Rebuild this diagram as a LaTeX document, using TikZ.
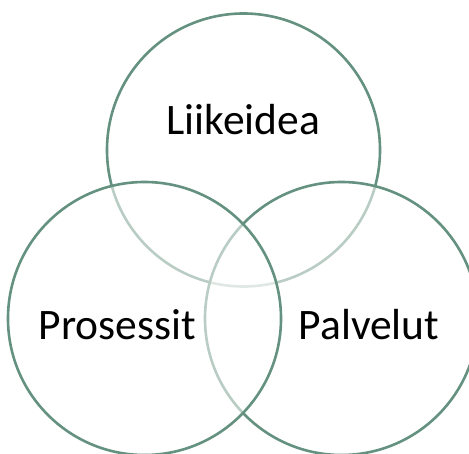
\documentclass[tikz,border=0pt]{standalone}
\usepackage{fontspec}
\setmainfont{Carlito}
\definecolor{ring}{RGB}{100,145,128}
\begin{document}
\begin{tikzpicture}[x=1pt,y=1pt,
  vcircle/.style={circle, draw=ring, line width=2.6pt, fill=white, fill opacity=0.55, draw opacity=1, minimum size=273pt, inner sep=0pt},
  vlabel/.style={font=\fontsize{43.5}{50}\selectfont, text=black, anchor=base}]
\useasboundingbox (0,0) rectangle (469,453);
\begin{scope}
\clip (0,0) rectangle (469,453);
\node[vcircle] (top) at (243.5,303) {};
\node[vcircle] (right) at (341.5,134.5) {};
\node[vcircle] (left) at (144.5,134.5) {};
\end{scope}
\node[vlabel] (t1) at (243.5,318) {Liikeidea};
\node[vlabel] (t2) at (117.5,113) {Prosessit};
\node[vlabel] (t3) at (369,113) {Palvelut};
\end{tikzpicture}
\end{document}
